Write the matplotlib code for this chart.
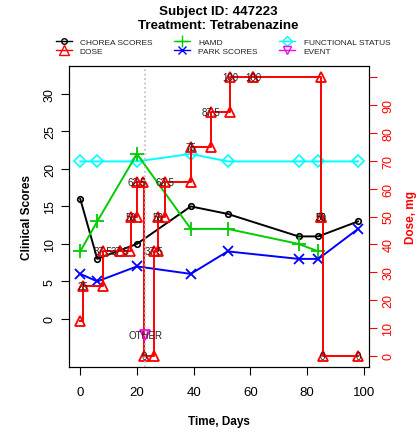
import matplotlib
matplotlib.use("Agg")
import matplotlib.pyplot as plt
from matplotlib.lines import Line2D

plt.rcParams['font.family'] = ['Liberation Sans', 'DejaVu Sans']

# Clinical scores
visit_day  = [0, 6, 20, 39, 52, 77, 84, 98]
chorea     = [16, 8, 10, 15, 14, 11, 11, 13]
hamd       = [9, 13, 22, 12, 12, 10, 9]
hamd_day   = [0, 6, 20, 39, 52, 77, 84]
functional = [21, 21, 21, 22, 21, 21, 21, 21]
park       = [6, 5, 7, 6, 9, 8, 8, 12]

# Dose history (step plot, right axis)
dose_day = [0, 1, 8, 8, 14, 14, 17.5, 18, 20, 20, 22, 22.5, 26, 26, 27.5, 27.5,
            30, 30, 39, 39, 46, 46, 53, 53, 61, 61, 85, 85, 85, 85.5, 98]
dose_mg  = [12.5, 25, 25, 37.5, 37.5, 37.5, 37.5, 50, 50, 62.5, 62.5, 0, 0, 37.5,
            37.5, 50, 50, 62.5, 62.5, 75, 75, 87.5, 87.5, 100, 100, 100, 100,
            50, 50, 0, 0]
dose_lab = [0, 1, 0, 1, 0, 1, 0, 1, 0, 1, 0, 1, 0, 1, 0, 1,
            0, 1, 0, 1, 0, 1, 0, 1, 0, 1, 0, 1, 1, 1, 1]

# Events
event_day   = [23]
event_dose  = [7.5]
event_label = ["OTHER"]

fig = plt.figure(figsize=(4.19, 4.39), dpi=100)
ax = fig.add_axes([0.165, 0.162, 0.716, 0.685])
ax2 = ax.twinx()

lw = 1.4
ax.plot(visit_day, functional, color="cyan", lw=lw, marker="D", ms=6,
        mfc="none", mew=1.2)
ax.plot(visit_day, chorea, color="black", lw=lw, marker="o", ms=4,
        mfc="none", mew=1.2)
ax.plot(hamd_day, hamd, color="#00cc00", lw=lw, marker="+", ms=10, mew=1.3)
ax.plot(visit_day, park, color="blue", lw=lw, marker="x", ms=7, mew=1.3)

ax.set_xlim(-3.92, 101.92)
ax.set_ylim(-6.4, 33.7)
ax.set_xticks([0, 20, 40, 60, 80, 100])
ax.set_yticks([0, 5, 10, 15, 20, 25, 30])
ax.tick_params(axis="y", labelrotation=90, labelsize=9, length=6)
ax.tick_params(axis="x", labelsize=9.5, length=6, pad=8)
for t in ax.get_yticklabels():
    t.set_verticalalignment("center")
ax.set_xlabel("Time, Days", fontsize=8.5, fontweight="bold", labelpad=12)
ax.set_ylabel("Clinical Scores", fontsize=8.5, fontweight="bold", labelpad=8)

# dose
ax2.step(dose_day, dose_mg, where="post", color="red", lw=lw)
ax2.plot(dose_day, dose_mg, ls="none", marker="^", ms=7, mfc="none",
         mec="red", mew=1.3)
for d, m, s in zip(dose_day, dose_mg, dose_lab):
    if s:
        ax2.text(d, m, f"{m:g}", fontsize=7, color="#222222",
                 ha="center", va="center")

for d in event_day:
    ax2.axvline(d, color="#bbbbbb", ls=":", lw=1.2)
ax2.plot(event_day, event_dose, ls="none", marker="v", ms=7, mfc="none",
         mec="magenta", mew=1.3)
for d, m, s in zip(event_day, event_dose, event_label):
    ax2.text(d, m, s, fontsize=7, color="#222222", ha="center", va="center")

ax2.set_ylim(-4, 104)
ax2.set_yticks(range(0, 101, 10))
ax2.set_yticklabels([str(v) for v in range(0, 100, 10)] + [""])
ax2.tick_params(axis="y", colors="red", labelrotation=90, labelsize=9, length=6)
for t in ax2.get_yticklabels():
    t.set_verticalalignment("center")
ax2.set_ylabel("Dose, mg", color="red", fontsize=8.5, fontweight="bold",
               labelpad=8)

fig.text(0.52, 0.972, "Subject ID: 447223", ha="center", va="center",
         fontsize=9.6, fontweight="bold")
fig.text(0.52, 0.94, "Treatment: Tetrabenazine", ha="center", va="center",
         fontsize=9.6, fontweight="bold")

handles = [
    Line2D([], [], color="black", marker="o", ms=4, mfc="none", lw=1),
    Line2D([], [], color="red", marker="^", ms=7, mfc="none", lw=1),
    Line2D([], [], color="#00cc00", marker="+", ms=9, lw=1),
    Line2D([], [], color="blue", marker="x", ms=6, lw=1),
    Line2D([], [], color="cyan", marker="D", ms=5, mfc="none", lw=1),
    Line2D([], [], color="magenta", marker="v", ms=6, mfc="none", lw=1),
]
names = ["CHOREA SCORES", "DOSE", "HAMD", "PARK SCORES",
         "FUNCTIONAL STATUS", "EVENT"]
fig.legend(handles, names, ncol=3, loc="center", bbox_to_anchor=(0.532, 0.892),
           frameon=False, fontsize=6, handlelength=1.9, columnspacing=2.6,
           labelspacing=0.15, handletextpad=1.0, borderpad=0,
           labelcolor="#222222")

fig.savefig("out.png", dpi=100)
